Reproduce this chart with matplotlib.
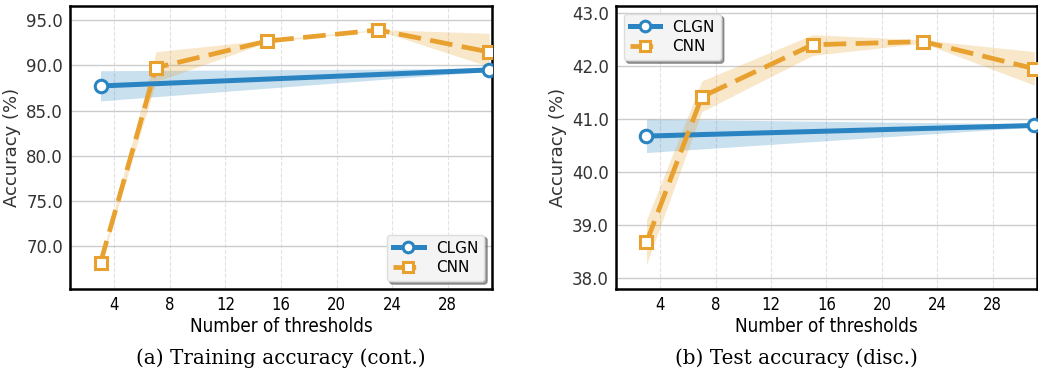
import numpy as np
import matplotlib.pyplot as plt

# data
thresholds_clgn = [3, 31]
thresholds_cnn = [3, 7, 15, 23, 31]

train_clgn = [87.72, 89.49]
train_clgn_lo = [86.07, 89.35]
train_clgn_hi = [89.40, 89.65]
train_cnn = [68.2, 89.74, 92.68, 93.9, 91.47]
train_cnn_lo = [68.0, 88.2, 92.55, 93.85, 89.85]
train_cnn_hi = [68.4, 91.5, 92.8, 93.95, 93.53]

test_clgn = [40.68, 40.88]
test_clgn_lo = [40.37, 40.85]
test_clgn_hi = [41.00, 40.91]
test_cnn = [38.68, 41.42, 42.40, 42.46, 41.95]
test_cnn_lo = [38.26, 41.14, 42.20, 42.43, 41.64]
test_cnn_hi = [39.10, 41.72, 42.59, 42.49, 42.27]

xticks = [4, 8, 12, 16, 20, 24, 28]
captions = ['(a) Training accuracy (cont.)', '(b) Test accuracy (disc.)']

blue = '#2b84c2'
orange = '#e8a02e'
narrow = dict(family='DejaVu Sans', fontstretch='condensed')

fig = plt.figure(figsize=(10.38, 3.85), dpi=100)
ax1 = fig.add_axes([70/1038, 1-289/385, 422/1038, 283/385])
ax2 = fig.add_axes([616/1038, 1-289/385, 421/1038, 283/385])


def draw(ax, clgn, clo, chi, cnn, nlo, nhi, ylim, yticks, loc):
    ax.fill_between(thresholds_clgn, clo, chi, color=blue, alpha=0.25, lw=0)
    ax.fill_between(thresholds_cnn, nlo, nhi, color=orange, alpha=0.25, lw=0)
    ax.plot(thresholds_clgn, clgn, color=blue, lw=3.6, marker='o', ms=9,
            mfc='white', mec=blue, mew=2.2, label='CLGN', zorder=3)
    ax.plot(thresholds_cnn, cnn, color=orange, lw=3.4, marker='s', ms=8.5,
            mfc='white', mec=orange, mew=2.2, dashes=(4.8, 2), label='CNN', zorder=4)
    ax.set_xlim(0.8, 31.2)
    ax.set_ylim(*ylim)
    ax.set_xticks(xticks)
    ax.set_yticks(yticks)
    ax.set_yticklabels([f'{v:.1f}' for v in yticks], fontsize=12, color='#333333')
    ax.set_xticklabels([str(v) for v in xticks], fontsize=12, **narrow)
    ax.grid(axis='y', color='#cccccc', lw=1.0)
    ax.grid(axis='x', color='#e2e2e2', lw=0.8, ls='--')
    ax.set_axisbelow(True)
    ax.tick_params(length=0, pad=5)
    for s in ax.spines.values():
        s.set_color('black')
        s.set_linewidth(1.8)
    ax.set_xlabel('Number of thresholds', fontsize=13.5, labelpad=2, **narrow)
    ax.set_ylabel('Accuracy (%)', fontsize=13, color='#333333', labelpad=4)
    leg = ax.legend(loc=loc, fontsize=11, shadow=True, fancybox=True,
                    framealpha=1, handlelength=2.0, borderpad=0.4, labelspacing=0.3,
                    handletextpad=0.8, markerscale=0.85, edgecolor='#dddddd')
    leg.get_frame().set_facecolor('#f4f4f4')


draw(ax1, train_clgn, train_clgn_lo, train_clgn_hi, train_cnn, train_cnn_lo, train_cnn_hi,
     (65.3, 96.55), [70, 75, 80, 85, 90, 95], 'lower right')
draw(ax2, test_clgn, test_clgn_lo, test_clgn_hi, test_cnn, test_cnn_lo, test_cnn_hi,
     (37.8, 43.13), [38, 39, 40, 41, 42, 43], 'upper left')

fig.text(281/1038, 1-358/385, captions[0], ha='center', va='center',
         fontsize=14.3, family='DejaVu Serif')
fig.text(796/1038, 1-358/385, captions[1], ha='center', va='center',
         fontsize=14.3, family='DejaVu Serif')

plt.savefig('out.png', dpi=100)
